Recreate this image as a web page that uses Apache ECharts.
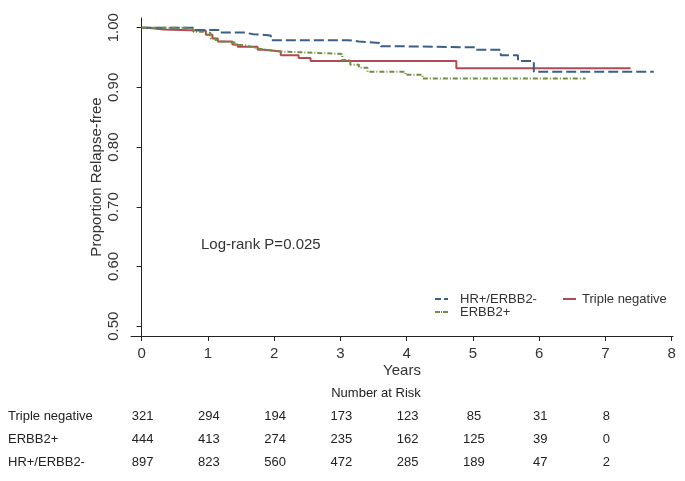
<!DOCTYPE html>
<html>
<head>
<meta charset="utf-8">
<script src="https://cdn.jsdelivr.net/npm/echarts@6/dist/echarts.min.js"></script>
<style>
  html, body { margin: 0; padding: 0; background: #fff; }
  #chart { width: 685px; height: 481px; }
</style>
</head>
<body>
<div id="chart"></div>
<script>
// Kaplan-Meier steps (years, proportion relapse-free)
const tnTime = [0, 0.09, 0.33, 0.97, 1.07, 1.15, 1.37, 1.45, 1.75, 1.84, 2.10, 2.37, 2.55, 4.75, 7.38]
const tnSurv = [1.000, 0.997, 0.995, 0.988, 0.982, 0.977, 0.972, 0.968, 0.963, 0.960, 0.954, 0.949, 0.944, 0.932, 0.932]

const erTime = [0, 0.69, 0.78, 0.97, 1.04, 1.12, 1.19, 1.42, 1.54, 1.65, 1.75, 1.90, 2.10, 2.35, 3.03, 3.15, 3.28, 3.41, 3.98, 4.24, 6.70]
const erSurv = [1.000, 0.997, 0.993, 0.991, 0.982, 0.977, 0.975, 0.971, 0.968, 0.965, 0.963, 0.960, 0.959, 0.956, 0.946, 0.938, 0.933, 0.926, 0.921, 0.915, 0.915]

const hrTime = [0, 0.80, 1.16, 1.54, 1.69, 1.95, 3.12, 3.28, 3.61, 3.83, 5.04, 5.42, 5.68, 5.92, 7.73]
const hrSurv = [1.000, 0.996, 0.992, 0.989, 0.987, 0.979, 0.977, 0.974, 0.969, 0.967, 0.963, 0.954, 0.944, 0.926, 0.926]

const xTicks = [0, 1, 2, 3, 4, 5, 6, 7, 8]
const yTicks = [0.5, 0.6, 0.7, 0.8, 0.9, 1.0]

// number at risk table
const riskYears = [0, 1, 2, 3, 4, 5, 6, 7]
const riskGroups = ['Triple negative', 'ERBB2+', 'HR+/ERBB2-']
const riskTN = [321, 294, 194, 173, 123, 85, 31, 8]
const riskER = [444, 413, 274, 235, 162, 125, 39, 0]
const riskHR = [897, 823, 560, 472, 285, 189, 47, 2]

const BLUE = '#3b5f86'
const RED = '#b24a55'
const GREEN = '#6f8f3f'
const FONT = '"Liberation Sans", Arial, sans-serif'

const toPairs = (ts, ss) => ts.map((t, i) => [t, ss[i]])

const chart = echarts.init(document.getElementById('chart'))

const option = {
  animation: false,
  textStyle: { fontFamily: FONT },
  grid: { left: 131, right: 12, top: 18, bottom: 145 },
  xAxis: {
    type: 'value',
    min: -0.16,
    max: 8.02,
    name: 'Years',
    nameLocation: 'middle',
    nameGap: 27,
    nameMoveOverlap: false,
    nameTextStyle: { fontSize: 15, color: '#333', fontFamily: FONT },
    axisLine: { show: true, lineStyle: { color: '#222', width: 1 } },
    axisTick: { show: true, length: 5, customValues: xTicks, lineStyle: { color: '#222' } },
    axisLabel: { customValues: xTicks, fontSize: 15, color: '#333', margin: 10, fontFamily: FONT },
    splitLine: { show: false }
  },
  yAxis: {
    type: 'value',
    min: 0.4836,
    max: 1.0162,
    name: 'Proportion Relapse-free',
    nameLocation: 'middle',
    nameGap: 27,
    nameMoveOverlap: false,
    nameTextStyle: { fontSize: 15, color: '#333', fontFamily: FONT },
    axisLine: { show: true, lineStyle: { color: '#222', width: 1 } },
    axisTick: { show: true, length: 5, customValues: yTicks, lineStyle: { color: '#222' } },
    axisLabel: {
      customValues: yTicks,
      rotate: 90,
      fontSize: 15,
      color: '#333',
      margin: 10,
      fontFamily: FONT,
      formatter: v => v.toFixed(2)
    },
    splitLine: { show: false }
  },
  series: [
    {
      name: 'HR+/ERBB2-',
      type: 'line',
      step: 'end',
      symbol: 'none',
      data: toPairs(hrTime, hrSurv),
      lineStyle: { color: BLUE, width: 2, type: [10, 4] },
      z: 3
    },
    {
      name: 'Triple negative',
      type: 'line',
      step: 'end',
      symbol: 'none',
      data: toPairs(tnTime, tnSurv),
      lineStyle: { color: RED, width: 2, type: 'solid' },
      z: 2
    },
    {
      name: 'ERBB2+',
      type: 'line',
      step: 'end',
      symbol: 'none',
      data: toPairs(erTime, erSurv),
      lineStyle: { color: GREEN, width: 2, type: [5, 2, 1, 2] },
      z: 4
    }
  ]
}

chart.setOption(option)

// legend, annotation and risk table
const graphics = []
const txt = (x, y, text, size, align, color) => ({
  type: 'text',
  x: x,
  y: y,
  style: {
    text: text,
    fontSize: size,
    fontFamily: FONT,
    fill: color || '#222',
    align: align || 'left',
    verticalAlign: 'middle'
  }
})
const seg = (x1, x2, y, color, dash) => ({
  type: 'line',
  shape: { x1: x1, y1: y, x2: x2, y2: y },
  style: { stroke: color, lineWidth: 2, lineDash: dash }
})

graphics.push(txt(201, 245, 'Log-rank P=0.025', 15, 'left', '#333'))

graphics.push(seg(435, 448, 299, BLUE, [6, 3]))
graphics.push(txt(460, 299, 'HR+/ERBB2-', 13, 'left', '#333'))
graphics.push(seg(563, 576, 299, RED, null))
graphics.push(txt(582, 299, 'Triple negative', 13, 'left', '#333'))
graphics.push(seg(435, 448, 312, GREEN, [5, 1, 1, 1]))
graphics.push(txt(460, 312, 'ERBB2+', 13, 'left', '#333'))

graphics.push(txt(376, 393, 'Number at Risk', 13, 'center'))
const rowY = [416, 439, 462]
const rows = [riskTN, riskER, riskHR]
rows.forEach((vals, r) => {
  graphics.push(txt(8, rowY[r], riskGroups[r], 13, 'left'))
  vals.forEach((v, i) => {
    const px = chart.convertToPixel({ xAxisIndex: 0 }, riskYears[i])
    graphics.push(txt(px + 1, rowY[r], String(v), 13, 'center'))
  })
})

chart.setOption({ graphic: graphics })
</script>
</body>
</html>
